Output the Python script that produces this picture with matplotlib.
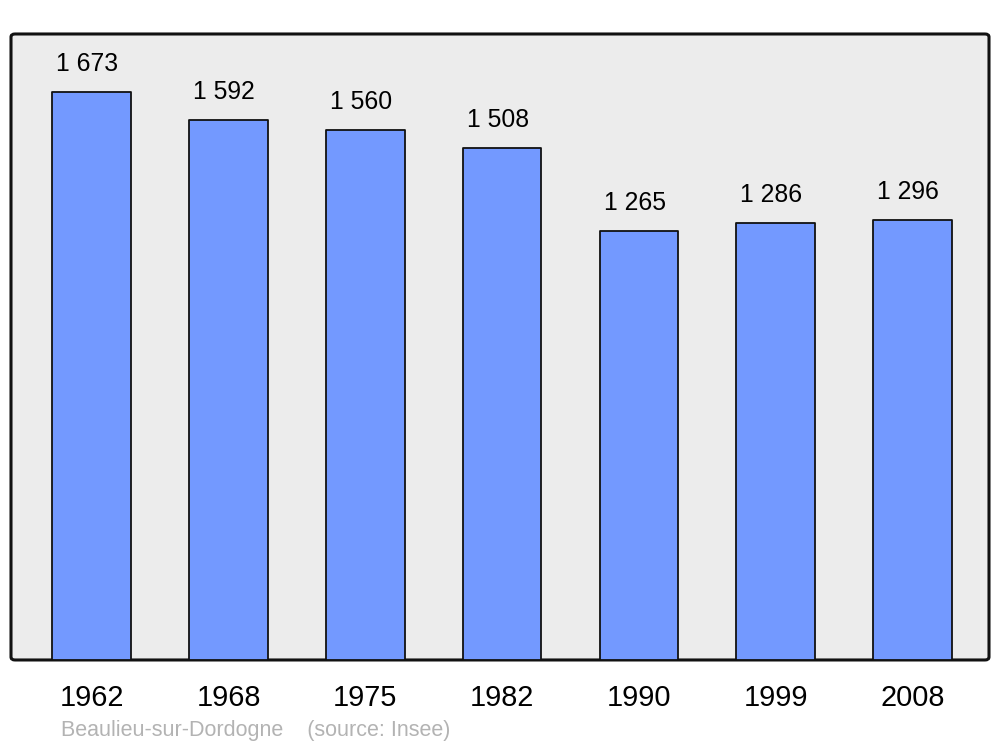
import matplotlib.pyplot as plt
from matplotlib.patches import FancyBboxPatch

plt.rcParams["font.family"] = ["Liberation Sans", "DejaVu Sans"]

# Population data
years = ["1962", "1968", "1975", "1982", "1990", "1999", "2008"]
population = [1673, 1592, 1560, 1508, 1265, 1286, 1296]
value_labels = ["1 673", "1 592", "1 560", "1 508", "1 265", "1 286", "1 296"]
caption = "Beaulieu-sur-Dordogne    (source: Insee)"

fig = plt.figure(figsize=(10, 7.47), dpi=100)
ax = fig.add_axes([0.011, 0.1165, 0.978, 0.838])
ax.set_facecolor("none")

# Rounded frame with grey background, behind the axes
frame = FancyBboxPatch(
    (0.011, 0.1165), 0.978, 0.838,
    boxstyle="round,pad=0,rounding_size=0.004",
    transform=fig.transFigure, facecolor="#ececec",
    edgecolor="#111111", linewidth=2.2, zorder=-1,
)
fig.patches.append(frame)

x = range(len(years))
bars = ax.bar(
    x, population, width=0.575, color="#7399ff",
    edgecolor="#111111", linewidth=1.3, zorder=2,
)
for b in bars:
    b.set_joinstyle("round")

for xi, val, lab in zip(x, population, value_labels):
    ax.annotate(lab, (xi, val), xytext=(-3, 11.5), textcoords="offset points",
                ha="center", va="bottom", fontsize=17.8, color="black")

ax.set_xlim(-0.59, 6.56)
ax.set_ylim(0, 1844)
ax.set_xticks(list(x))
ax.set_xticklabels(years, fontsize=20.8)
ax.tick_params(axis="x", length=0, pad=17)
ax.set_yticks([])
for s in ax.spines.values():
    s.set_visible(False)

fig.text(0.061, 0.008, caption, fontsize=15.5, color="#b3b3b3",
         ha="left", va="bottom")

fig.savefig("out.png", dpi=100)
